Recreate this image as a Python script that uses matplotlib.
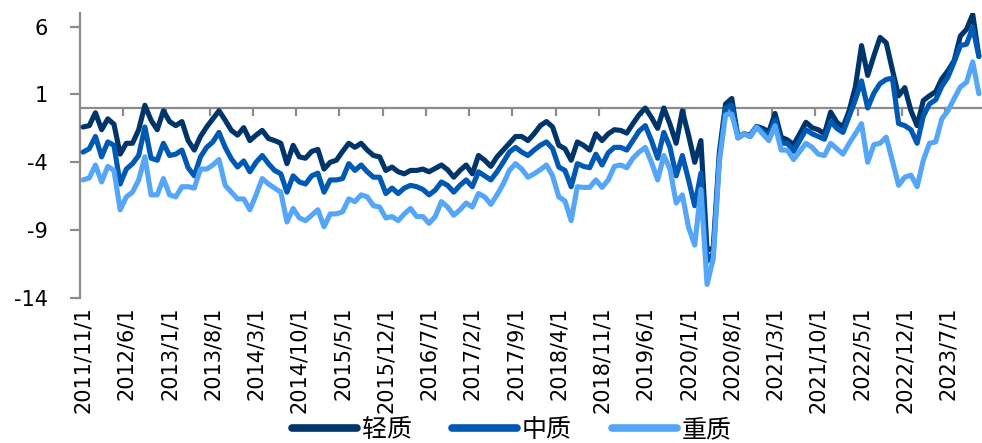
import matplotlib
matplotlib.use('Agg')
import matplotlib.pyplot as plt
import numpy as np
import pandas as pd

plt.rcParams['axes.unicode_minus'] = False

# ---- data ----
months = pd.date_range('2011-11-01', periods=146, freq='MS')
categories = [f"{d.year}/{d.month}/1" for d in months]

series_names = ['轻质', '中质', '重质']

light_crude = [
    -1.4, -1.3, -0.35, -1.6, -0.8, -1.2, -3.4, -2.6, -2.6, -1.6,
    0.2, -0.9, -1.6, -0.2, -1.0, -1.3, -1.0, -2.4, -3.1, -2.1,
    -1.4, -0.8, -0.2, -0.9, -1.65, -2.0, -1.45, -2.4, -2.0, -1.65,
    -2.25, -2.4, -2.6, -4.1, -2.75, -3.6, -3.7, -3.2, -3.05, -4.5,
    -4.0, -3.85, -3.2, -2.6, -2.9, -2.6, -3.1, -3.5, -3.6, -4.6,
    -4.35, -4.7, -4.85, -4.6, -4.6, -4.5, -4.7, -4.45, -4.2, -4.55,
    -5.1, -4.6, -4.2, -4.85, -3.5, -3.85, -4.3, -3.6, -3.1, -2.6,
    -2.1, -2.1, -2.4, -1.9, -1.3, -1.0, -1.4, -2.75, -3.0, -3.85,
    -2.5, -2.75, -3.1, -1.9, -2.4, -1.9, -1.6, -1.65, -1.85, -1.15,
    -0.5, 0.0, -0.7, -1.5, 0.0, -1.2, -2.6, -0.2, -2.0, -4.0,
    -2.4, -10.5, -10.3, -3.2, 0.3, 0.7, -2.2, -1.9, -2.0, -1.35,
    -1.5, -1.75, -0.4, -2.15, -2.35, -2.7, -1.9, -1.05, -1.45, -1.6,
    -1.9, -0.3, -1.05, -1.4, -0.2, 1.55, 4.6, 2.4, 3.85, 5.2,
    4.8, 2.8, 0.9, 1.5, -0.2, -1.3, 0.55, 0.9, 1.2, 2.15,
    2.75, 3.5, 5.3, 5.8, 6.9, 3.8,
]

medium_crude = [
    -3.25, -3.0, -2.1, -3.6, -2.5, -2.75, -5.6, -4.5, -4.1, -3.5,
    -1.4, -3.7, -3.85, -2.6, -3.5, -3.4, -3.1, -4.4, -5.0, -3.6,
    -2.9, -2.5, -1.8, -2.9, -3.75, -4.35, -3.9, -4.7, -4.0, -3.5,
    -4.1, -4.6, -4.85, -6.2, -5.0, -5.45, -5.6, -5.0, -4.8, -6.2,
    -5.3, -5.3, -5.2, -4.1, -4.6, -4.2, -4.7, -5.1, -5.1, -6.3,
    -5.9, -6.3, -5.9, -5.7, -5.8, -6.0, -6.4, -6.05, -5.45, -5.7,
    -6.2, -5.7, -5.3, -5.8, -4.7, -5.0, -5.3, -4.7, -4.0, -3.25,
    -2.9, -3.25, -3.5, -3.1, -2.75, -2.5, -3.0, -4.35, -4.6, -5.8,
    -4.1, -4.3, -4.4, -3.4, -4.2, -3.3, -2.9, -2.9, -3.1, -2.4,
    -1.7, -1.3, -2.4, -3.7, -1.8, -2.9, -5.0, -3.5, -5.3, -7.2,
    -4.8, -11.3, -10.7, -3.6, 0.0, 0.2, -2.1, -1.9, -2.1, -1.4,
    -1.7, -2.0, -0.9, -2.6, -2.6, -3.2, -2.4, -1.6, -1.9, -2.1,
    -2.3, -1.0, -1.5, -1.8, -0.6, 0.6, 2.0, 0.0, 1.1, 1.8,
    2.1, 2.2, -1.15, -1.3, -1.6, -2.6, -0.6, 0.3, 0.6, 1.6,
    2.3, 3.4, 4.6, 4.7, 5.95, 3.8,
]

heavy_crude = [
    -5.3, -5.15, -4.2, -5.45, -4.3, -4.6, -7.5, -6.55, -6.2, -5.3,
    -3.6, -6.4, -6.4, -5.2, -6.4, -6.55, -5.8, -5.8, -5.9, -4.5,
    -4.5, -4.2, -3.8, -5.7, -6.2, -6.7, -6.7, -7.5, -6.4, -5.2,
    -5.6, -5.9, -6.2, -8.4, -7.4, -8.1, -8.3, -7.9, -7.5, -8.75,
    -7.8, -7.8, -7.65, -6.7, -6.9, -6.4, -6.55, -7.2, -7.3, -8.1,
    -8.0, -8.3, -7.8, -7.4, -8.0, -8.0, -8.5, -8.0, -6.9, -7.3,
    -7.9, -7.5, -7.0, -7.3, -6.3, -6.55, -7.1, -6.4, -5.6, -4.6,
    -4.1, -4.5, -5.1, -4.85, -4.55, -4.2, -5.0, -6.55, -6.85, -8.3,
    -5.8, -5.85, -5.85, -5.3, -5.85, -5.3, -4.3, -4.2, -4.4, -3.7,
    -3.25, -2.9, -4.0, -5.3, -3.5, -4.5, -7.0, -6.4, -8.8, -10.1,
    -6.0, -13.0, -11.1, -3.9, -0.5, -0.45, -2.2, -1.9, -2.1, -1.4,
    -1.9, -2.4, -1.3, -3.1, -3.1, -3.8, -3.2, -2.6, -2.9, -3.4,
    -3.5, -2.6, -3.0, -3.4, -2.6, -1.9, -1.15, -4.0, -2.7, -2.6,
    -2.15, -3.9, -5.7, -5.1, -4.95, -5.8, -3.85, -2.6, -2.5, -0.8,
    -0.2, 0.7, 1.55, 1.9, 3.4, 1.05,
]

y_ticks = [-14, -9, -4, 1, 6]
label_step = 7

# ---- styling ----
colors = ['#00356B', '#0059B3', '#56A6F7']
axis_gray = '#8C8C8C'

fig = plt.figure(figsize=(9.82, 4.43), dpi=100)
ax = fig.add_axes([80 / 982, 145 / 443, 902 / 982, 285 / 443])

x = np.arange(len(categories))
for vals, name, col in zip([light_crude, medium_crude, heavy_crude], series_names, colors):
    ax.plot(x, vals, color=col, lw=3.7, solid_joinstyle='round',
            solid_capstyle='round', label=name, zorder=3)

ax.set_xlim(-0.5, len(categories) - 0.5)
ax.set_ylim(-14, 7)
ax.set_yticks(y_ticks)

# zero axis line with category-boundary tick marks
ax.axhline(0, color=axis_gray, lw=1.6, zorder=1)
bounds = np.arange(label_step, len(categories), label_step) - 0.5
ax.vlines(bounds, -0.6, 0, color=axis_gray, lw=1.6, zorder=1)

for s in ['top', 'right', 'bottom']:
    ax.spines[s].set_visible(False)
ax.spines['left'].set_color(axis_gray)
ax.spines['left'].set_linewidth(1.6)

ax.tick_params(axis='y', length=7, width=1.6, color=axis_gray,
               labelsize=15, pad=16)
ax.set_xticks(x[::label_step])
ax.set_xticklabels(categories[::label_step], rotation=90, fontsize=15)
ax.tick_params(axis='x', length=0, pad=6)

leg = fig.legend(loc='center', bbox_to_anchor=(512 / 982, 13 / 443), ncol=3,
                 frameon=False, prop={'family': 'Noto Sans CJK SC', 'size': 18},
                 handlelength=2.6, handletextpad=0.2, columnspacing=1.6)
for ln in leg.get_lines():
    ln.set_linewidth(5.5)
    ln.set_solid_capstyle('round')

fig.savefig('out.png', dpi=100)
